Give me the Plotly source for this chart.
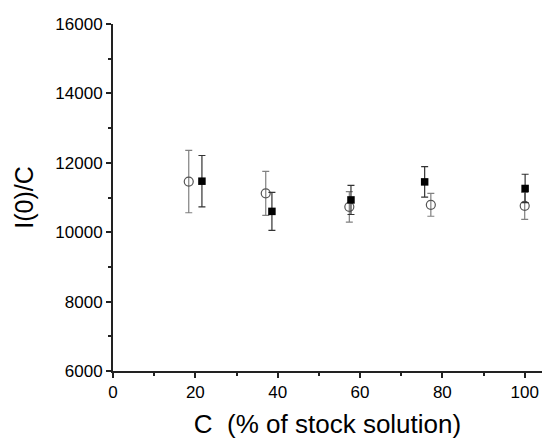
import plotly.graph_objects as go

# open circles
circ_x = [18.4, 37.1, 57.4, 77.2, 100.0]
circ_y = [11460, 11120, 10730, 10790, 10760]
circ_err = [900, 635, 440, 330, 390]
# filled squares
sq_x = [21.6, 38.6, 57.8, 75.7, 100.1]
sq_y = [11470, 10600, 10930, 11450, 11260]
sq_err = [740, 545, 420, 440, 410]

y_ticks = [6000, 8000, 10000, 12000, 14000, 16000]
y_labels = ["6000", "8000", "10000", "12000", "14000", "16000"]
x_ticks = [0, 20, 40, 60, 80, 100]
x_labels = ["0", "20", "40", "60", "80", "100"]

fig = go.Figure()
fig.add_trace(go.Scatter(
    x=circ_x, y=circ_y, mode="markers",
    marker=dict(symbol="circle-open", size=9, color="#555555", line=dict(width=1.2)),
    error_y=dict(type="data", array=circ_err, visible=True, color="#808080", thickness=1.2, width=3.5),
    showlegend=False))
fig.add_trace(go.Scatter(
    x=sq_x, y=sq_y, mode="markers",
    marker=dict(symbol="square", size=7.5, color="black"),
    error_y=dict(type="data", array=sq_err, visible=True, color="#333333", thickness=1.2, width=3.5),
    showlegend=False))

font = "Liberation Sans, Arial, sans-serif"
fig.update_layout(
    width=542, height=439,
    margin=dict(l=113, r=0, t=24, b=68),
    paper_bgcolor="white", plot_bgcolor="white",
    font=dict(family=font, color="black"),
    xaxis=dict(range=[0, 104.2], tickvals=x_ticks, ticktext=x_labels,
               showgrid=False, zeroline=False, showline=True, linecolor="#222", linewidth=2,
               ticks="outside", ticklen=5, tickwidth=1.5, tickcolor="#222",
               tickfont=dict(size=17),
               minor=dict(tickvals=[10, 30, 50, 70, 90], ticks="outside", ticklen=3, tickwidth=1.5, tickcolor="#222"),
               title=dict(text="C  (% of stock solution)", font=dict(size=26), standoff=13)),
    yaxis=dict(range=[6000, 16000], tickvals=y_ticks, ticktext=y_labels,
               showgrid=False, zeroline=False, showline=True, linecolor="#222", linewidth=2,
               ticks="outside", ticklen=5, tickwidth=1.5, tickcolor="#222",
               tickfont=dict(size=17),
               minor=dict(tickvals=[7000, 9000, 11000, 13000, 15000], ticks="outside", ticklen=3, tickwidth=1.5, tickcolor="#222"),
               title=dict(text="I(0)/C", font=dict(size=25), standoff=15)),
)
fig.write_html("out.html")
